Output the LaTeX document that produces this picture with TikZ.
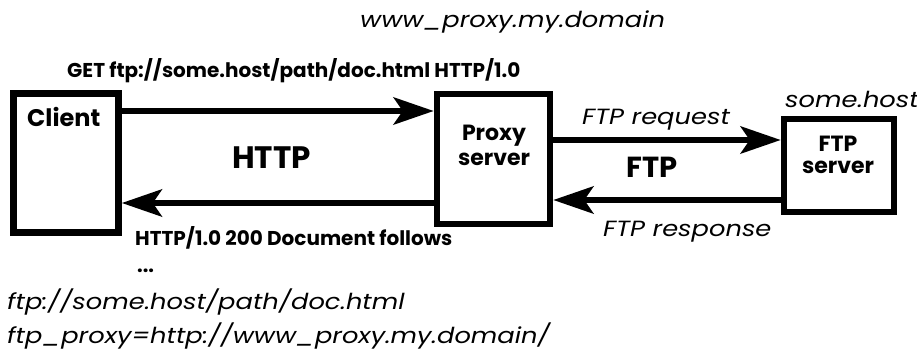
\documentclass[tikz,border=0pt]{standalone}
\usepackage{fontspec}
\setmainfont{Poppins}[ItalicFeatures={FakeStretch=1.17}]
\usetikzlibrary{arrows.meta}
\tikzset{
  box/.style = {draw, line width=6.5pt, inner sep=0pt},
  link/.style = {line width=6.5pt},
  tag/.style = {inner sep=0pt, anchor=base west,
    font=\itshape\fontsize{22}{26}\selectfont},
  msg/.style = {inner sep=0pt, anchor=base west,
    font=\bfseries\fontsize{20}{22}\selectfont},
  hostname/.style = {inner sep=0pt, align=center,
    font=\bfseries\fontsize{22}{25}\selectfont},
  proto/.style = {inner sep=0pt, anchor=base,
    font=\bfseries\fontsize{31}{36}\selectfont}
}
\tikzset{>={Stealth[length=40pt,width=27pt,inset=9pt]}}

\begin{document}
\begin{tikzpicture}[x=1pt,y=-1pt]
  \useasboundingbox (0,0) rectangle (917,358);
  % the three machines
  \node[box, minimum width=105pt, minimum height=139pt] (client) at (66,163) {};
  \node[box, minimum width=113pt, minimum height=130pt] (proxy) at (493.5,159) {};
  \node[box, minimum width=110pt, minimum height=93pt] (ftp) at (839,165.5) {};
  \node[hostname, anchor=base west, font=\bfseries\fontsize{24}{25}\selectfont]
    (clientname) at (27,127) {Client};
  \node[hostname, anchor=base] (proxyname) at (494,166) {Proxy\\server};
  \node[hostname, anchor=base] (ftpname) at (838,173) {FTP\\[-4pt]server};
  % requests and answers
  \draw[link,->] (client.east |- 0,111) -- (proxy.west |- 0,111);
  \draw[link,->] (proxy.west |- 0,203) -- (client.east |- 0,203);
  \draw[link,->] (proxy.east |- 0,140) -- (ftp.west |- 0,140);
  \draw[link,->] (ftp.west |- 0,200) -- (proxy.east |- 0,200);
  \node[proto] (http) at (271.5,168) {HTTP};
  \node[proto, font=\bfseries\fontsize{29}{34}\selectfont] (ftpproto) at (652.5,178) {FTP};
  % texts
  \node[tag] (domain) at (360,28) {www\_proxy.my.domain};
  \node[tag] (host) at (785,108) {some.host};
  \node[tag] (request) at (582,125) {FTP request};
  \node[tag] (response) at (603,236) {FTP response};
  \node[msg] (get) at (67,78) {GET ftp://some.host/path/doc.html HTTP/1.0};
  \node[msg] (reply) at (135,245) {HTTP/1.0 200 Document follows};
  \node[msg] (more) at (137,272) {...};
  \node[tag] (url) at (7,309) {ftp://some.host/path/doc.html};
  \node[tag] (env) at (7,343) {ftp\_proxy=http://www\_proxy.my.domain/};
\end{tikzpicture}
\end{document}
